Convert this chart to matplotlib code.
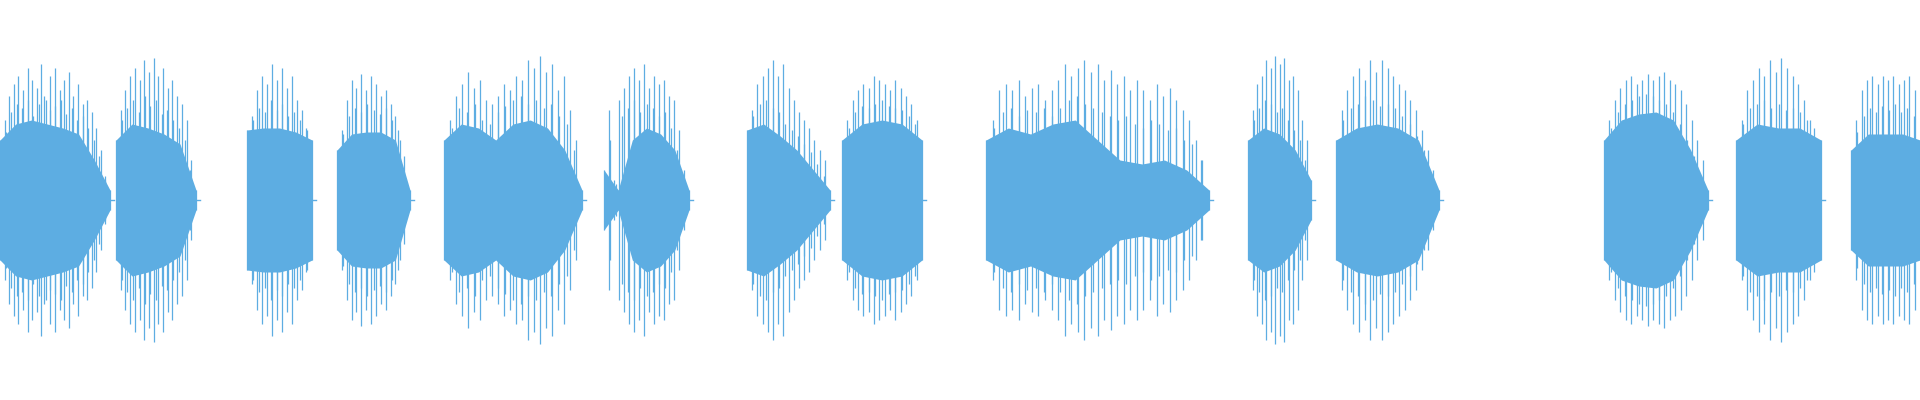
import numpy as np
from matplotlib import pyplot as plt

# segment bounds in seconds
seg_start = [0.00, 1.16, 2.47, 3.37, 4.44, 6.04, 7.47, 8.42, 9.86, 12.48, 13.36, 16.04, 17.36, 18.51]
seg_end = [1.10, 1.96, 3.12, 4.10, 5.82, 6.89, 8.30, 9.22, 12.09, 13.11, 14.39, 17.08, 18.21, 19.20]

# core envelope (dense body) per segment
seg_core = [
    [0.30, 0.38, 0.40, 0.38, 0.36, 0.33, 0.20, 0.05],
    [0.30, 0.38, 0.36, 0.33, 0.28, 0.05],
    [0.35, 0.36, 0.36, 0.34, 0.30],
    [0.25, 0.33, 0.34, 0.34, 0.30, 0.05],
    [0.30, 0.38, 0.36, 0.30, 0.38, 0.40, 0.36, 0.25, 0.05],
    [0.15, 0.05, 0.30, 0.36, 0.33, 0.25, 0.05],
    [0.35, 0.38, 0.32, 0.25, 0.15, 0.05],
    [0.30, 0.38, 0.40, 0.38, 0.30],
    [0.30, 0.36, 0.33, 0.38, 0.40, 0.30, 0.20, 0.18, 0.20, 0.15, 0.05],
    [0.30, 0.36, 0.33, 0.25, 0.10],
    [0.30, 0.36, 0.38, 0.36, 0.30, 0.05],
    [0.30, 0.40, 0.43, 0.44, 0.40, 0.25, 0.05],
    [0.30, 0.38, 0.36, 0.36, 0.30],
    [0.25, 0.33, 0.33, 0.33, 0.30],
]

# tall spike heights per segment
seg_spikes = [
    [0.40, 0.52, 0.58, 0.62, 0.55, 0.66, 0.60, 0.56, 0.68, 0.50, 0.62, 0.66, 0.55, 0.60, 0.64, 0.52, 0.58, 0.48, 0.50, 0.44, 0.36, 0.25, 0.10],
    [0.45, 0.55, 0.62, 0.66, 0.60, 0.70, 0.64, 0.71, 0.62, 0.66, 0.56, 0.60, 0.52, 0.48, 0.40, 0.20],
    [0.42, 0.55, 0.62, 0.58, 0.68, 0.60, 0.66, 0.56, 0.62, 0.50, 0.45, 0.35],
    [0.35, 0.50, 0.60, 0.56, 0.63, 0.55, 0.62, 0.58, 0.52, 0.55, 0.48, 0.42, 0.30, 0.10],
    [0.40, 0.52, 0.58, 0.64, 0.56, 0.60, 0.50, 0.48, 0.52, 0.58, 0.55, 0.62, 0.60, 0.70, 0.66, 0.72, 0.64, 0.68, 0.55, 0.62, 0.45, 0.30],
    [0.45, 0.10, 0.50, 0.56, 0.62, 0.66, 0.60, 0.68, 0.56, 0.62, 0.58, 0.60, 0.52, 0.50, 0.35, 0.15],
    [0.45, 0.58, 0.62, 0.66, 0.70, 0.62, 0.68, 0.56, 0.50, 0.44, 0.40, 0.36, 0.30, 0.25, 0.20],
    [0.40, 0.50, 0.55, 0.58, 0.56, 0.62, 0.60, 0.58, 0.55, 0.60, 0.56, 0.52, 0.48, 0.40],
    [0.40, 0.55, 0.58, 0.55, 0.60, 0.52, 0.56, 0.58, 0.50, 0.55, 0.60, 0.68, 0.62, 0.66, 0.70, 0.64, 0.68, 0.60, 0.65, 0.58, 0.62, 0.55, 0.60, 0.55, 0.50, 0.58, 0.52, 0.56, 0.50, 0.45, 0.40, 0.30, 0.20],
    [0.45, 0.58, 0.62, 0.70, 0.66, 0.72, 0.68, 0.71, 0.60, 0.62, 0.55, 0.40, 0.30],
    [0.45, 0.55, 0.62, 0.66, 0.60, 0.70, 0.64, 0.70, 0.66, 0.62, 0.58, 0.55, 0.50, 0.45, 0.35, 0.25, 0.15],
    [0.40, 0.50, 0.56, 0.60, 0.62, 0.58, 0.60, 0.63, 0.60, 0.62, 0.64, 0.60, 0.58, 0.55, 0.48, 0.40, 0.30, 0.20],
    [0.40, 0.55, 0.60, 0.66, 0.62, 0.70, 0.64, 0.71, 0.66, 0.62, 0.58, 0.50, 0.40, 0.30],
    [0.40, 0.55, 0.60, 0.62, 0.58, 0.62, 0.60, 0.62, 0.58, 0.60, 0.62, 0.55],
]

# medium spike heights filling the body between tall ones
seg_mid = [
    [0.34, 0.44, 0.48, 0.46, 0.50, 0.42, 0.48, 0.52, 0.45, 0.47, 0.50, 0.43, 0.46, 0.40, 0.42, 0.36, 0.30, 0.22, 0.12],
    [0.40, 0.46, 0.50, 0.44, 0.52, 0.47, 0.50, 0.43, 0.45, 0.40, 0.36, 0.30, 0.15],
    [0.40, 0.46, 0.44, 0.50, 0.45, 0.48, 0.42, 0.44, 0.40, 0.36],
    [0.33, 0.42, 0.46, 0.44, 0.48, 0.45, 0.43, 0.46, 0.40, 0.35, 0.22],
    [0.36, 0.46, 0.44, 0.48, 0.40, 0.38, 0.44, 0.47, 0.50, 0.52, 0.48, 0.50, 0.46, 0.48, 0.42, 0.38, 0.25],
    [0.30, 0.08, 0.42, 0.46, 0.50, 0.44, 0.48, 0.46, 0.42, 0.44, 0.36, 0.25, 0.12],
    [0.42, 0.48, 0.50, 0.46, 0.44, 0.38, 0.35, 0.32, 0.28, 0.24, 0.18, 0.12],
    [0.36, 0.44, 0.47, 0.46, 0.48, 0.50, 0.47, 0.46, 0.45, 0.42, 0.38],
    [0.36, 0.44, 0.46, 0.42, 0.45, 0.44, 0.46, 0.42, 0.46, 0.50, 0.52, 0.48, 0.46, 0.44, 0.42, 0.40, 0.42, 0.38, 0.36, 0.40, 0.38, 0.35, 0.36, 0.30, 0.28, 0.20],
    [0.40, 0.46, 0.50, 0.48, 0.44, 0.46, 0.40, 0.35, 0.30, 0.20],
    [0.40, 0.46, 0.48, 0.52, 0.50, 0.47, 0.48, 0.46, 0.42, 0.38, 0.32, 0.25, 0.12],
    [0.36, 0.44, 0.48, 0.50, 0.52, 0.53, 0.52, 0.50, 0.48, 0.44, 0.38, 0.30, 0.22, 0.12],
    [0.38, 0.46, 0.48, 0.50, 0.46, 0.48, 0.45, 0.46, 0.44, 0.40, 0.36],
    [0.34, 0.42, 0.46, 0.44, 0.47, 0.45, 0.48, 0.44, 0.46, 0.42],
]

color = "#5DADE2"

fig = plt.figure(figsize=(19.2, 4.0), dpi=100)
ax = fig.add_axes([0, 0, 1, 1])

for start, end, core, spikes, mid in zip(seg_start, seg_end, seg_core, seg_spikes, seg_mid):
    xc = np.linspace(start, end, len(core))
    core = np.array(core)
    ax.fill_between(xc, -core, core, color=color, linewidth=0)
    xs = np.linspace(start, end, len(spikes) + 2)[1:-1]
    spikes = np.array(spikes)
    ax.vlines(xs, -spikes, spikes, color=color, linewidth=0.9)
    xm = np.linspace(start, end, len(mid) + 2)[1:-1]
    mid = np.array(mid)
    ax.vlines(xm, -mid, mid, color=color, linewidth=0.9)
    ax.vlines([start, end], -core[[0, -1]], core[[0, -1]], color=color, linewidth=0.9)
    ax.plot([end, end + 0.04], [0, 0], color=color, linewidth=1.0)

ax.set_xlim(0, 19.2)
ax.set_ylim(-1, 1)
ax.axis("off")

fig.savefig("out.png", dpi=100, facecolor="white")
